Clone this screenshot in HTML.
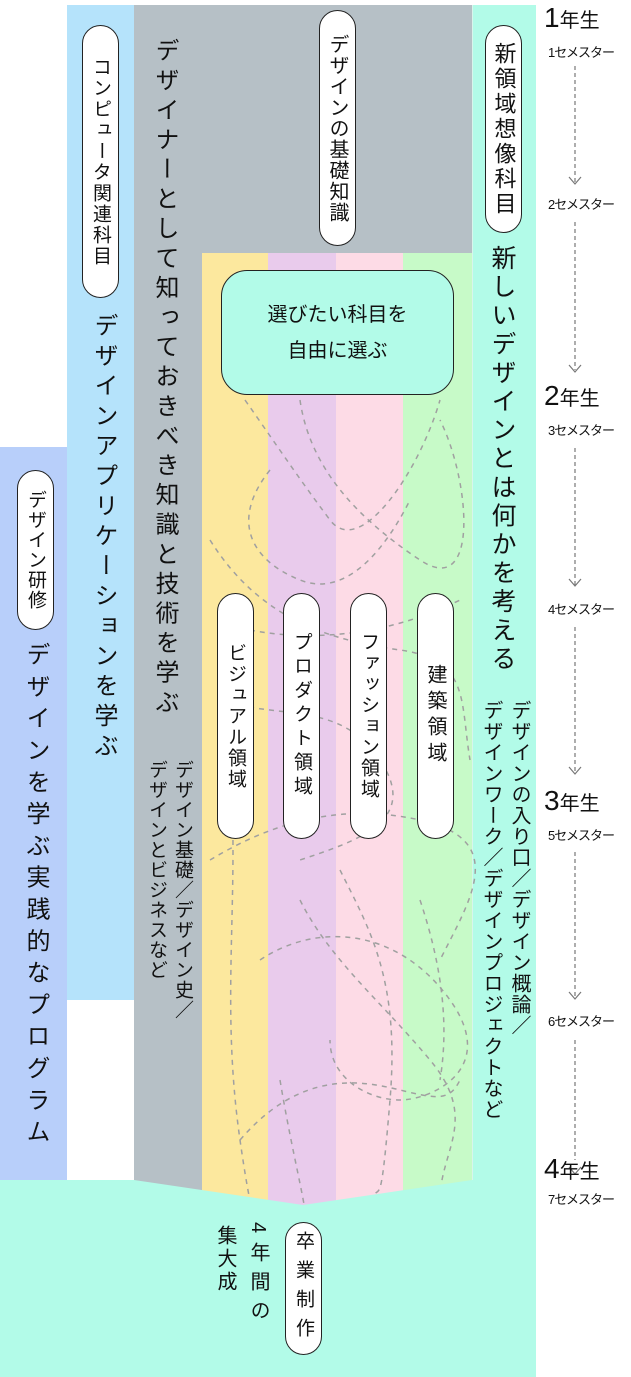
<!DOCTYPE html>
<html><head><meta charset="utf-8">
<style>
*{margin:0;padding:0;box-sizing:border-box}
body{width:631px;height:1377px;position:relative;background:#fff;overflow:hidden;font-family:"Liberation Sans","Noto Sans CJK JP",sans-serif;color:#111}
.a{position:absolute}
.v{position:absolute;writing-mode:vertical-rl;white-space:nowrap}
.pill{position:absolute;background:#fff;border:1.5px solid #222;border-radius:19px;writing-mode:vertical-rl;display:flex;align-items:center;justify-content:center;white-space:nowrap}
.t{position:absolute;font-size:13px;white-space:nowrap;letter-spacing:-1px}
.y{position:absolute;font-size:20px;white-space:nowrap}
.y b{font-size:28px;font-weight:normal}
</style></head><body>
<div class="a" style="left:0;top:447px;width:67px;height:760px;background:#b8cffa"></div>
<div class="a" style="left:67px;top:5px;width:67px;height:995px;background:#b5e3fb"></div>
<div class="a" style="left:134px;top:5px;width:338px;height:248px;background:#b6c0c6"></div>
<div class="a" style="left:134px;top:253px;width:68px;height:960px;background:#b6c0c6"></div>
<div class="a" style="left:202px;top:253px;width:66px;height:960px;background:#fce89e"></div>
<div class="a" style="left:268px;top:253px;width:68px;height:960px;background:#e9cbec"></div>
<div class="a" style="left:336px;top:253px;width:67px;height:960px;background:#fddbe6"></div>
<div class="a" style="left:403px;top:253px;width:69px;height:960px;background:#c7fac8"></div>
<div class="a" style="left:472px;top:5px;width:64px;height:1372px;background:#b2fbe8;border-left:1px solid #d8f5ec"></div>
<svg class="a" style="left:0;top:0" width="631" height="1377">
<g fill="none" stroke="#a0a0a0" stroke-width="1.5" stroke-dasharray="5,5">
<path d="M245,400 C280,450 300,480 330,520 S420,470 440,400"/>
<path d="M300,400 C310,470 360,520 420,560 S470,480 440,420"/>
<path d="M270,470 C230,520 250,560 300,580 S390,540 410,500"/>
<path d="M210,540 C260,620 330,640 400,650 S460,700 470,760"/>
<path d="M220,700 C280,720 340,700 380,760 S360,840 300,860"/>
<path d="M250,630 C300,640 380,640 460,600"/>
<path d="M210,860 C260,830 330,800 420,820 S470,900 440,960"/>
<path d="M230,760 C240,900 220,1000 240,1140 S260,1190 250,1200"/>
<path d="M300,900 C330,960 380,1000 430,1060 S440,1150 440,1200"/>
<path d="M340,870 C370,930 400,980 390,1100 S380,1180 370,1200"/>
<path d="M260,960 C320,920 400,930 450,1000 S430,1100 400,1100 S330,1080 330,1040"/>
<path d="M240,1140 C300,1070 360,1080 400,1090 S450,1100 460,1080"/>
<path d="M280,1080 C290,1140 300,1180 305,1210"/>
<path d="M420,900 C440,960 450,1020 440,1080"/>
</g>
<polygon points="0,1180 134,1180 303,1205 472,1180 536,1180 536,1377 0,1377" fill="#b2fbe8"/>
<g fill="none" stroke="#777" stroke-width="1.2" stroke-dasharray="4,3">
<line x1="575" y1="66" x2="575" y2="183"/><line x1="575" y1="222" x2="575" y2="370"/>
<line x1="575" y1="448" x2="575" y2="585"/><line x1="575" y1="627" x2="575" y2="773"/>
<line x1="575" y1="852" x2="575" y2="998"/><line x1="575" y1="1040" x2="575" y2="1160"/>
</g>
<g fill="none" stroke="#777" stroke-width="1.2">
<polyline points="569,177 575,184 581,177"/><polyline points="569,365 575,372 581,365"/>
<polyline points="569,579 575,586 581,579"/><polyline points="569,767 575,774 581,767"/>
<polyline points="569,992 575,999 581,992"/><polyline points="569,1167 575,1174 581,1167"/>
</g>
</svg>

<div class="pill" style="left:82px;top:25px;width:37px;height:273px;font-size:19px;letter-spacing:2px">コンピュータ関連科目</div>
<div class="v" style="left:146px;top:38px;font-size:24px;letter-spacing:5.6px;line-height:36px">デザイナーとして知っておきべき知識と技術を学ぶ</div>
<div class="pill" style="left:319px;top:10px;width:37px;height:236px;font-size:20px;letter-spacing:1px">デザインの基礎知識</div>
<div class="pill" style="left:485px;top:25px;width:37px;height:208px;font-size:22px;letter-spacing:3px">新領域想像科目</div>
<div class="v" style="left:484px;top:245px;font-size:25px;letter-spacing:3.6px;line-height:36px">新しいデザインとは何かを考える</div>
<div class="v" style="left:85px;top:313px;font-size:24px;letter-spacing:6px;line-height:36px">デザインアプリケーションを学ぶ</div>
<div class="pill" style="left:17px;top:470px;width:37px;height:160px;font-size:19px;letter-spacing:1px">デザイン研修</div>
<div class="v" style="left:17px;top:642px;font-size:24px;letter-spacing:7.8px;line-height:36px">デザインを学ぶ実践的なプログラム</div>
<div class="v" style="left:143px;top:760px;font-size:19px;line-height:26px;letter-spacing:1px">デザイン基礎／デザイン史／<br>デザインとビジネスなど</div>
<div class="v" style="left:477px;top:700px;font-size:20px;line-height:28px;letter-spacing:1px">デザインの入り口／デザイン概論／<br>デザインワーク／デザインプロジェクトなど</div>

<div class="a" style="left:221px;top:270px;width:233px;height:125px;background:#b2fbe8;border:1.5px solid #222;border-radius:26px;display:flex;align-items:center;justify-content:center;text-align:center;font-size:20px;line-height:36px">選びたい科目を<br>自由に選ぶ</div>

<div class="pill" style="left:217px;top:593px;width:37px;height:246px;font-size:19px;letter-spacing:2px">ビジュアル領域</div>
<div class="pill" style="left:283px;top:593px;width:37px;height:246px;font-size:19px;letter-spacing:5px">プロダクト領域</div>
<div class="pill" style="left:350px;top:593px;width:37px;height:246px;font-size:19px;letter-spacing:2px">ファッション領域</div>
<div class="pill" style="left:417px;top:593px;width:37px;height:246px;font-size:20px;letter-spacing:6px">建築領域</div>

<div class="pill" style="left:285px;top:1222px;width:37px;height:133px;font-size:19px;letter-spacing:10px">卒業制作</div>
<div class="v" style="left:244px;top:1222px;font-size:20px;letter-spacing:9px;line-height:28px">4年間の</div>
<div class="v" style="left:211px;top:1225px;font-size:20px;letter-spacing:3px;line-height:28px">集大成</div>

<div class="y" style="left:544px;top:2px"><b>1</b>年生</div>
<div class="t" style="left:548px;top:42px">1セメスター</div>
<div class="t" style="left:548px;top:194px">2セメスター</div>
<div class="y" style="left:544px;top:380px"><b>2</b>年生</div>
<div class="t" style="left:548px;top:420px">3セメスター</div>
<div class="t" style="left:548px;top:599px">4セメスター</div>
<div class="y" style="left:544px;top:785px"><b>3</b>年生</div>
<div class="t" style="left:548px;top:825px">5セメスター</div>
<div class="t" style="left:548px;top:1011px">6セメスター</div>
<div class="y" style="left:544px;top:1153px"><b>4</b>年生</div>
<div class="t" style="left:548px;top:1189px">7セメスター</div>
</body></html>
